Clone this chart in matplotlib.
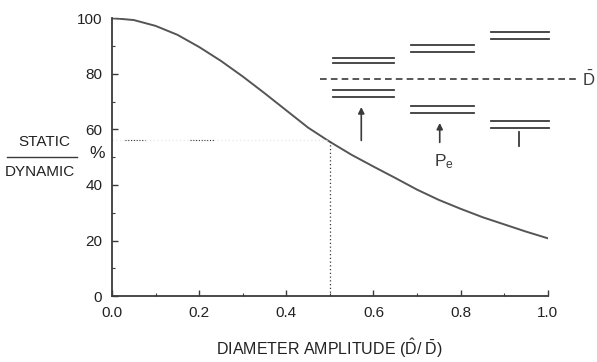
import matplotlib
matplotlib.use("Agg")
import matplotlib.pyplot as plt
from matplotlib.ticker import MultipleLocator

plt.rcParams["font.family"] = ["Liberation Sans", "DejaVu Sans"]
plt.rcParams["mathtext.default"] = "regular"

# ratio of static to dynamic values against diameter amplitude
amplitude = [0.0, 0.05, 0.1, 0.15, 0.2, 0.25, 0.3, 0.35, 0.4, 0.45, 0.5,
             0.55, 0.6, 0.65, 0.7, 0.75, 0.8, 0.85, 0.9, 0.95, 1.0]
ratio = [100, 99.3, 97.2, 94.0, 89.6, 84.6, 79.0, 73.0, 66.8, 60.6, 55.5,
         50.8, 46.6, 42.5, 38.3, 34.6, 31.4, 28.4, 25.8, 23.2, 20.8]

marker_x = 0.5
marker_y = 56

x_ticks = [0.0, 0.2, 0.4, 0.6, 0.8, 1.0]
y_ticks = [0, 20, 40, 60, 80, 100]

# inset level diagram: (x start, x end, upper pair, lower pair)
level_groups = [
    (0.507, 0.646, (85.7, 83.7), (74.1, 71.5)),
    (0.685, 0.830, (90.5, 87.9), (68.3, 65.9)),
    (0.869, 1.003, (94.9, 92.4), (62.9, 60.5)),
]
mean_level = 78.1

ink = "#3a3a3a"
text_ink = "#222222"

fig = plt.figure(figsize=(5.97, 3.62), dpi=100)
ax = fig.add_axes([0.1876, 0.182, 0.730, 0.768])

ax.plot(amplitude, ratio, color="#555555", lw=1.4)

# reading lines at D-hat/D-bar = 0.5
ax.plot([marker_x, marker_x], [0, marker_y], color=ink, lw=0.9, ls=(0, (1, 2)))
ax.plot([0, marker_x], [marker_y, marker_y], color="#e6e6e6", lw=0.9, ls=(0, (1, 2)))
ax.plot([0.03, 0.075], [marker_y, marker_y], color=ink, lw=0.8, ls=(0, (1, 1.5)))
ax.plot([0.18, 0.235], [marker_y, marker_y], color=ink, lw=0.8, ls=(0, (1, 1.5)))

# level diagram
for x0, x1, upper, lower in level_groups:
    for y in upper + lower:
        ax.plot([x0, x1], [y, y], color=ink, lw=1.3, clip_on=False)
ax.plot([0.478, 1.068], [mean_level, mean_level], color=ink, lw=1.2,
        ls=(0, (4, 2.5)), clip_on=False)
ax.text(1.094, mean_level, r"$\bar{D}$", ha="center", va="center",
        fontsize=12, color=ink)

ax.annotate("", xy=(0.572, 69.0), xytext=(0.572, 55.0),
            arrowprops=dict(arrowstyle="-|>", color=ink, lw=1.2,
                            mutation_scale=9))
ax.annotate("", xy=(0.752, 63.3), xytext=(0.752, 54.3),
            arrowprops=dict(arrowstyle="-|>", color=ink, lw=1.2,
                            mutation_scale=9))
ax.plot([0.934, 0.934], [54.0, 59.1], color=ink, lw=1.3)
ax.text(0.762, 48.5, r"P$_e$", ha="center", va="center", fontsize=12.5,
        color=ink)

ax.set_xlim(0, 1)
ax.set_ylim(0, 100)
ax.set_xticks(x_ticks)
ax.set_yticks(y_ticks)
ax.set_xticklabels([f"{v:.1f}" for v in x_ticks])
ax.xaxis.set_minor_locator(MultipleLocator(0.1))
ax.yaxis.set_minor_locator(MultipleLocator(10))
ax.tick_params(which="both", direction="in", color=ink, labelcolor=text_ink,
               labelsize=11)
ax.tick_params(which="major", length=4, width=1)
ax.tick_params(which="minor", length=2.5, width=0.8)
ax.tick_params(axis="y", pad=7)
ax.tick_params(axis="x", pad=7)

for side in ["top", "right"]:
    ax.spines[side].set_visible(False)
for side in ["left", "bottom"]:
    ax.spines[side].set_color(ink)
    ax.spines[side].set_linewidth(1.3)

ax.set_xlabel(r"DIAMETER AMPLITUDE ($\hat{D}$/ $\bar{D}$)", fontsize=11.5,
              color=text_ink, va="center")
ax.xaxis.set_label_coords(0.5, -0.187)

# fraction-style y label
fig.text(0.075, 0.607, "STATIC", ha="center", va="center", fontsize=11,
         color=text_ink)
fig.text(0.067, 0.525, "DYNAMIC", ha="center", va="center", fontsize=11,
         color=text_ink)
fig.add_artist(plt.Line2D([0.012, 0.129], [0.566, 0.566], color=ink, lw=1.0))
fig.text(0.162, 0.577, "%", ha="center", va="center", fontsize=12.5,
         color=text_ink)

fig.savefig("out.png", dpi=100)
